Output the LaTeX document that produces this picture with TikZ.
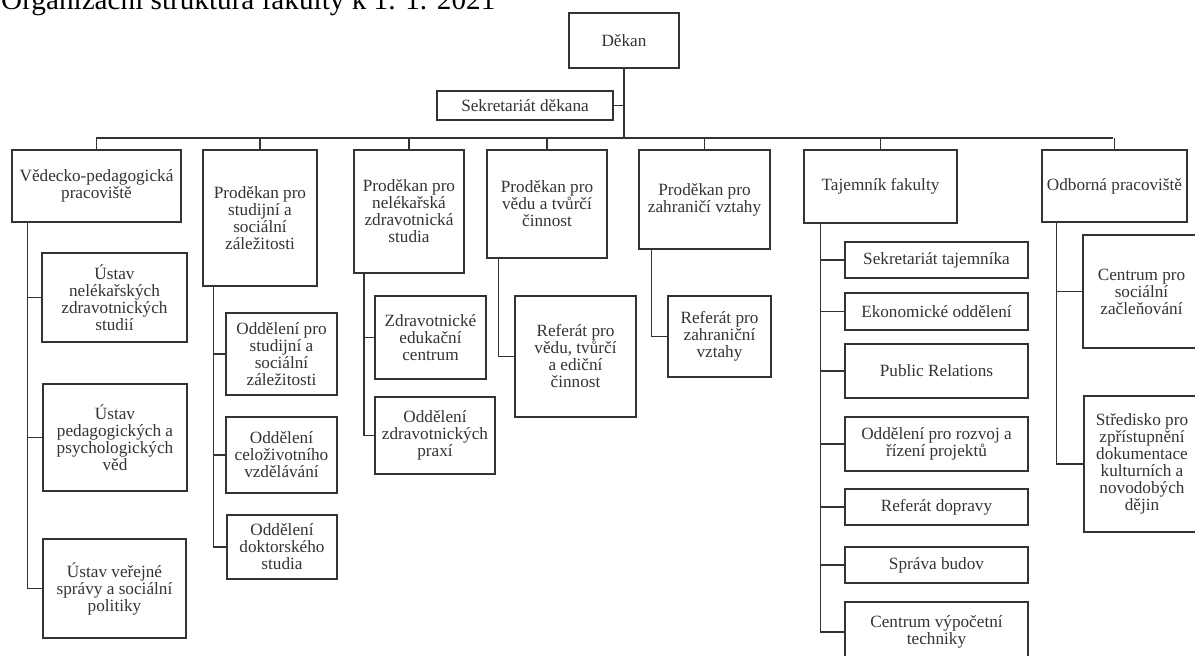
\documentclass[tikz,border=0pt]{standalone}
\usepackage{fontspec}
\setmainfont{Liberation Serif}
\usetikzlibrary{calc}
\definecolor{ink}{HTML}{333333}
\tikzset{
  orgbox/.style={draw=ink, text=ink, line width=1.4pt, align=center, inner sep=1pt,
    font=\fontsize{17.2}{17}\selectfont},
  link/.style={draw=ink, line width=1.4pt}
}
\begin{document}
\begin{tikzpicture}[x=1pt,y=-1pt]
\useasboundingbox (0,0) rectangle (1195,656);
\clip (0,0) rectangle (1195,656);
% title
\node[anchor=base west, inner sep=0, text=black, font=\fontsize{29.2}{32}\selectfont] (title) at (1,9.5) {Organizační struktura fakulty k 1. 1. 2021};
% top
\node[orgbox, minimum width=110, minimum height=55] (dekan) at (624,40.5) {Děkan};
\node[orgbox, minimum width=176, minimum height=29] (sd) at (525,105.5) {Sekretariát děkana};
% level 1
\node[orgbox, minimum width=169, minimum height=72] (vp) at (96.5,186) {Vědecko-pedagogická\\pracoviště};
\node[orgbox, minimum width=114, minimum height=136] (ps) at (260,218) {Proděkan pro\\studijní a\\sociální\\záležitosti};
\node[orgbox, minimum width=110, minimum height=123] (pn) at (409,211.5) {Proděkan pro\\nelékařská\\zdravotnická\\studia};
\node[orgbox, minimum width=120, minimum height=108] (pv) at (547,204) {Proděkan pro\\vědu a tvůrčí\\činnost};
\node[orgbox, minimum width=131, minimum height=99] (pz) at (704.5,199.5) {Proděkan pro\\zahraničí vztahy};
\node[orgbox, minimum width=153, minimum height=73] (tf) at (880.5,186.5) {Tajemník fakulty};
\node[orgbox, minimum width=145, minimum height=72] (op) at (1114.5,186) {Odborná pracoviště};
% column 1
\node[orgbox, minimum width=145, minimum height=89] (u1) at (114.5,297.5) {Ústav\\nelékařských\\zdravotnických\\studií};
\node[orgbox, minimum width=144, minimum height=107] (u2) at (115,437.5) {Ústav\\pedagogických a\\psychologických\\věd};
\node[orgbox, minimum width=143, minimum height=99] (u3) at (114.5,588.5) {Ústav veřejné\\správy a sociální\\politiky};
% column 2
\node[orgbox, minimum width=111, minimum height=82] (o1) at (281.5,354) {Oddělení pro\\studijní a\\sociální\\záležitosti};
\node[orgbox, minimum width=111, minimum height=76] (o2) at (281.5,455) {Oddělení\\celoživotního\\vzdělávání};
\node[orgbox, minimum width=110, minimum height=64] (o3) at (282,547) {Oddělení\\doktorského\\studia};
% column 3
\node[orgbox, minimum width=111, minimum height=83] (z1) at (430.5,337.5) {Zdravotnické\\edukační\\centrum};
\node[orgbox, minimum width=120, minimum height=77] (z2) at (435,435.5) {Oddělení\\zdravotnických\\praxí};
% column 4
\node[orgbox, minimum width=121, minimum height=121] (rv) at (575.5,356.5) {Referát pro\\vědu, tvůrčí\\a ediční\\činnost};
% column 5
\node[orgbox, minimum width=103, minimum height=81] (rz) at (719.5,336.5) {Referát pro\\zahraniční\\vztahy};
% column 6
\node[orgbox, minimum width=183, minimum height=36] (t1) at (936.5,260) {Sekretariát tajemníka};
\node[orgbox, minimum width=183, minimum height=37] (t2) at (936.5,311.5) {Ekonomické oddělení};
\node[orgbox, minimum width=183, minimum height=54] (t3) at (936.5,371) {Public Relations};
\node[orgbox, minimum width=183, minimum height=54] (t4) at (936.5,444) {Oddělení pro rozvoj a\\řízení projektů};
\node[orgbox, minimum width=183, minimum height=36] (t5) at (936.5,507) {Referát dopravy};
\node[orgbox, minimum width=183, minimum height=36] (t6) at (936.5,565) {Správa budov};
\node[orgbox, minimum width=183, minimum height=60] (t7) at (936.5,632) {Centrum výpočetní\\techniky};
% column 7
\node[orgbox, minimum width=117, minimum height=113] (c1) at (1141.5,291.5) {Centrum pro\\sociální\\začleňování};
\node[orgbox, minimum width=116, minimum height=136] (c2) at (1142,464) {Středisko pro\\zpřístupnění\\dokumentace\\kulturních a\\novodobých\\dějin};
% connectors
\coordinate (busL) at (96,138);
\coordinate (busR) at (1113,138);
\draw[link] (busL) -- (busR);
\draw[link] (dekan.south) -- (dekan.south |- busL);
\draw[link] (sd.east) -- (sd.east -| dekan.south);
\foreach \n in {vp,ps,pn,pv,pz,tf,op}{
  \draw[link] (\n.north) -- (\n.north |- busL);
}
\foreach \c in {u1,u2,u3}{\draw[link] ([xshift=16pt]vp.south west) |- (\c.west);}
\foreach \c in {o1,o2,o3}{\draw[link] ([xshift=11pt]ps.south west) |- (\c.west);}
\foreach \c in {z1,z2}{\draw[link] ([xshift=10.5pt]pn.south west) |- (\c.west);}
\draw[link] ([xshift=12pt]pv.south west) |- (rv.west);
\draw[link] ([xshift=13pt]pz.south west) |- (rz.west);
\foreach \c in {t1,t2,t3,t4,t5,t6,t7}{\draw[link] ([xshift=17pt]tf.south west) |- (\c.west);}
\foreach \c in {c1,c2}{\draw[link] ([xshift=15pt]op.south west) |- (\c.west);}
\end{tikzpicture}
\end{document}
